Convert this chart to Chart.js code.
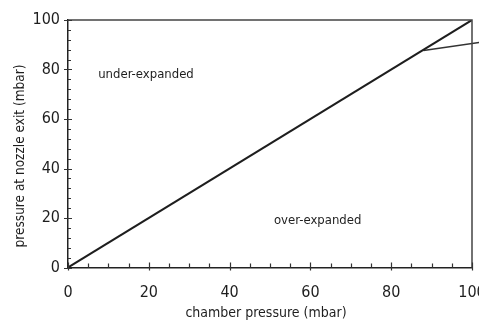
<!DOCTYPE html>
<html><head><meta charset="utf-8">
<script src="https://cdn.jsdelivr.net/npm/chart.js@4/dist/chart.umd.min.js"></script>
<style>html,body{margin:0;padding:0;background:#fff}</style>
</head><body>
<canvas id="c" width="479" height="322"></canvas>
<script>
// ---- data ----
const diagX = [0, 100];
const diagY = [0, 100];
const branchX = [88, 103];
const branchY = [87.7, 91.2];
const xTickValues = [0, 20, 40, 60, 80, 100];
const yTickValues = [0, 20, 40, 60, 80, 100];
const regionLabels = ['under-expanded', 'over-expanded'];
const regionX = [19.3, 61.8];
const regionY = [78, 18.8];
const xTitle = 'chamber pressure (mbar)';
const yTitle = 'pressure at nozzle exit (mbar)';

const FONT = '"Liberation Sans Narrow", "DejaVu Sans Condensed", "Roboto Condensed", sans-serif';
const INK = '#1e1e1e';

const toPts = (xs, ys) => xs.map((x, i) => ({x, y: ys[i]}));

const decor = {
  id: 'decor',
  afterDatasetsDraw(chart) {
    const {ctx, chartArea: a, scales: {x, y}} = chart;
    ctx.save();
    // frame top & right
    ctx.strokeStyle = '#444';
    ctx.lineWidth = 1.5;
    ctx.beginPath();
    ctx.moveTo(a.left, a.top); ctx.lineTo(a.right, a.top); ctx.lineTo(a.right, a.bottom);
    ctx.stroke();
    // ticks
    ctx.strokeStyle = '#333';
    ctx.lineWidth = 1.2;
    ctx.beginPath();
    for (let v = 0; v <= 100; v += 5) {
      const px = Math.round(x.getPixelForValue(v)) + 0.5;
      const major = v % 20 === 0;
      ctx.moveTo(px, a.bottom + (major ? 3 : 0));
      ctx.lineTo(px, a.bottom - (major ? 5 : 4));
    }
    for (let v = 0; v <= 100; v += 4) {
      const py = Math.round(y.getPixelForValue(v)) + 0.5;
      const major = v % 20 === 0;
      ctx.moveTo(a.left - (major ? 4 : 0), py);
      ctx.lineTo(a.left + (major ? 4 : 3), py);
    }
    ctx.stroke();
    // region labels
    ctx.fillStyle = INK;
    ctx.font = '13px ' + FONT;
    ctx.textAlign = 'center';
    ctx.textBaseline = 'middle';
    regionLabels.forEach((t, i) => {
      ctx.fillText(t, x.getPixelForValue(regionX[i]), y.getPixelForValue(regionY[i]));
    });
    // axis titles
    ctx.font = '14px ' + FONT;
    ctx.fillText(xTitle, (a.left + a.right) / 2 - 4, 313);
    ctx.save();
    ctx.translate(20, 156);
    ctx.rotate(-Math.PI / 2);
    ctx.font = '13.5px ' + FONT;
    ctx.fillText(yTitle, 0, 0);
    ctx.restore();
    ctx.restore();
  }
};

new Chart(document.getElementById('c'), {
  type: 'line',
  data: {
    datasets: [
      {data: toPts(diagX, diagY), borderColor: INK, borderWidth: 2, pointRadius: 0, tension: 0},
      {data: toPts(branchX, branchY), borderColor: '#333', borderWidth: 1.5, pointRadius: 0, tension: 0, clip: false}
    ]
  },
  options: {
    responsive: false,
    animation: false,
    layout: {padding: {left: 0, right: 7, top: 20, bottom: 0}},
    plugins: {legend: {display: false}, tooltip: {enabled: false}},
    scales: {
      x: {
        type: 'linear', min: 0, max: 100,
        afterBuildTicks: s => { s.ticks = xTickValues.map(v => ({value: v})); },
        ticks: {font: {family: FONT, size: 16}, color: INK, padding: 16, maxRotation: 0, autoSkip: false},
        grid: {display: false, drawTicks: false},
        border: {display: true, color: '#222', width: 1.5},
        afterFit: s => { s.height = 54.5; s.paddingLeft = 0; s.paddingRight = 0; }
      },
      y: {
        type: 'linear', min: 0, max: 100,
        afterBuildTicks: s => { s.ticks = yTickValues.map(v => ({value: v})); },
        ticks: {font: {family: FONT, size: 16}, color: INK, padding: 8},
        grid: {display: false, drawTicks: false},
        border: {display: true, color: '#222', width: 1.5},
        afterFit: s => { s.width = 68; }
      }
    }
  },
  plugins: [decor]
});
</script>
</body></html>
